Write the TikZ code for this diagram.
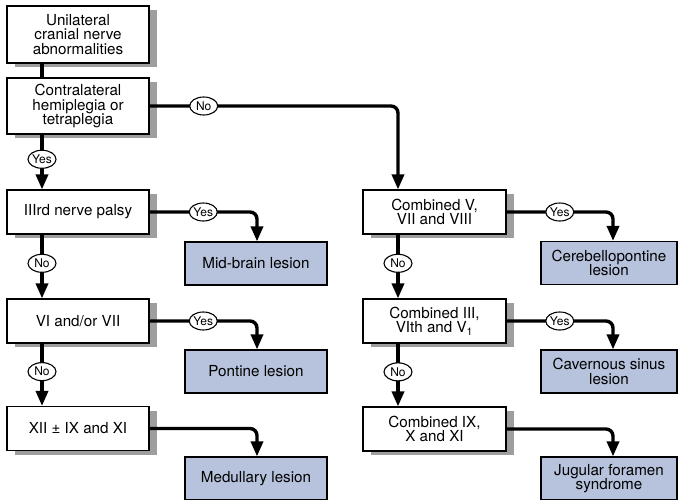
\documentclass[tikz,border=0pt]{standalone}
\usepackage{fontspec}
\setmainfont{TeX Gyre Heros}
\usetikzlibrary{arrows.meta,shapes.geometric,shadows}
\definecolor{endblue}{HTML}{B7C3DC}
\tikzset{
  qbox/.style={draw, line width=1.1pt, fill=white, minimum width=142pt, minimum height=44pt,
    align=center, inner sep=2pt, font=\fontsize{15.2}{14.6}\selectfont,
    drop shadow={shadow xshift=8pt, shadow yshift=-4pt, fill=black!38, opacity=1}},
  endbox/.style={draw, line width=1.2pt, fill=endblue, minimum height=43pt,
    align=center, inner sep=2pt, font=\fontsize{15.2}{14.6}\selectfont},
  conn/.style={line width=3.4pt, rounded corners=7pt},
  arr/.style={conn, -{Triangle[width=12pt,length=15pt]}},
  lab/.style={ellipse, draw, line width=1.1pt, fill=white, inner sep=0pt,
    minimum width=28pt, minimum height=18pt, font=\fontsize{12}{12}\selectfont}
}
\begin{document}
\begin{tikzpicture}[x=1pt,y=-1pt]
\useasboundingbox (0,0) rectangle (678,499);
\coordinate (lx) at (42,0);
\coordinate (rx) at (398,0);
% left column
\node[qbox, minimum height=57pt] (u1) at (78,34.5) {Unilateral\\cranial nerve\\abnormalities};
\node[qbox, minimum height=56pt] (c2) at (78,106) {Contralateral\\hemiplegia or\\tetraplegia};
\node[qbox] (b3) at (78,212) {IIIrd nerve palsy};
\node[qbox] (b4) at (78,321) {VI and/or VII};
\node[qbox] (b5) at (78,428.5) {XII ± IX and XI};
% right column
\node[qbox, minimum width=143pt] (r1) at (434.5,212) {Combined V,\\VII and VIII};
\node[qbox, minimum width=143pt] (r2) at (434.5,321) {Combined III,\\VIth and V\textsubscript{1}};
\node[qbox, minimum width=143pt] (r3) at (434.5,429) {Combined IX,\\X and XI};
% end boxes
\node[endbox, minimum width=142pt] (e1) at (256,263.5) {Mid-brain lesion};
\node[endbox, minimum width=142pt] (e2) at (256,371.5) {Pontine lesion};
\node[endbox, minimum width=142pt] (e3) at (256,478.5) {Medullary lesion};
\node[endbox, minimum width=136pt] (f1) at (609,263) {Cerebellopontine\\lesion};
\node[endbox, minimum width=136pt] (f2) at (609,371.5) {Cavernous sinus\\lesion};
\node[endbox, minimum width=136pt] (f3) at (609,478.5) {Jugular foramen\\syndrome};
\coordinate (ex) at (257,0);
\coordinate (fx) at (613,0);
% connectors left column
\draw[conn] (u1.south -| lx) -- (c2.north -| lx);
\draw[arr] (c2.south -| lx) -- node[lab, pos=0.45] (y0) {Yes} (b3.north -| lx);
\draw[arr] (b3.south -| lx) -- node[lab, pos=0.45] (n1) {No} (b4.north -| lx);
\draw[arr] (b4.south -| lx) -- node[lab, pos=0.45] (n2) {No} (b5.north -| lx);
\draw[arr] (b3.east) -| node[lab, pos=0.25] (y1) {Yes} (e1.north -| ex);
\draw[arr] (b4.east) -| node[lab, pos=0.25] (y2) {Yes} (e2.north -| ex);
\draw[arr] (b5.east) -| (e3.north -| ex);
% to right column
\draw[arr] (c2.east) -| node[lab, pos=0.109] (n0) {No} (r1.north -| rx);
\draw[arr] (r1.south -| rx) -- node[lab, pos=0.45] (n3) {No} (r2.north -| rx);
\draw[arr] (r2.south -| rx) -- node[lab, pos=0.45] (n4) {No} (r3.north -| rx);
\draw[arr] (r1.east) -| node[lab, pos=0.25] (y3) {Yes} (f1.north -| fx);
\draw[arr] (r2.east) -| node[lab, pos=0.25] (y4) {Yes} (f2.north -| fx);
\draw[arr] (r3.east) -| (f3.north -| fx);
\end{tikzpicture}
\end{document}
